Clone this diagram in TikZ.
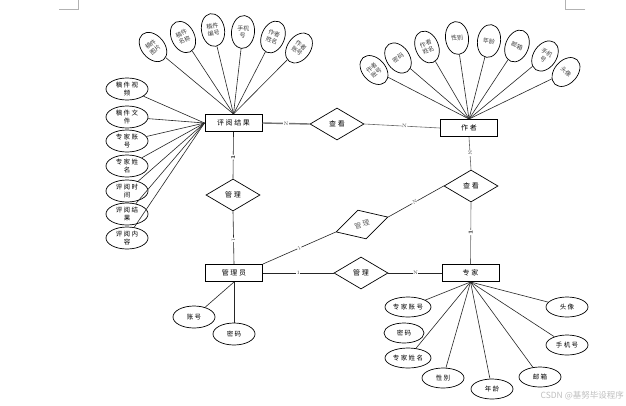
\documentclass[tikz,border=0pt]{standalone}
\usepackage{fontspec}
\newfontfamily\cjk{Noto Sans CJK SC}
\newfontfamily\cjkw{Noto Sans CJK SC}[LetterSpace=22]
\usetikzlibrary{shapes.geometric}

\tikzset{
  ent/.style={draw, line width=1pt, minimum width=57, minimum height=17, inner sep=0pt,
    font=\cjkw\fontsize{7}{8}\selectfont},
  rel/.style={draw, diamond, line width=0.7pt, inner sep=0pt, minimum width=54, minimum height=32,
    font=\cjkw\fontsize{7}{8}\selectfont},
  attv/.style={draw, ellipse, line width=0.7pt, inner sep=0pt, minimum width=23, minimum height=33,
    align=center, font=\cjk\fontsize{6}{7}\selectfont, text=black!75},
  atth/.style={draw, ellipse, line width=0.7pt, inner sep=0pt, minimum width=42, minimum height=22,
    align=center, font=\cjkw\fontsize{6.5}{8}\selectfont},
  attw/.style={atth, minimum width=46, minimum height=20},
  conn/.style={line width=0.6pt, black!85},
  card/.style={font=\fontsize{5}{5}\selectfont, inner sep=0.4pt, fill=white, sloped, text=black!70},
  cardb/.style={card, font=\bfseries\fontsize{6}{6}\selectfont, text=black},
  pagemark/.style={line width=0.5pt, black!30},
}

\begin{document}
\begin{tikzpicture}[x=1pt, y=-1pt]
\useasboundingbox[fill=white] (0,0) rectangle (626,405);

% page corner marks
\draw[pagemark] (59,9.5) -- (78,9.5) -- (78,0);
\draw[pagemark] (585,9.5) -- (565,9.5) -- (565,0);

% entities
\node[ent] (rj)  at (233.5,123) {评阅结果};
\node[ent] (zz)  at (469,128)   {作者};
\node[ent] (gly) at (234,273)   {管理员};
\node[ent] (zj)  at (470.5,273) {专家};

% relationships
\node[rel] (ck1) at (337,124) {查看};
\node[rel] (ck2) at (471,186) {查看};
\node[rel] (gl1) at (233,195) {管理};
\node[rel] (gl2) at (361,273) {管理};
\node[rel, rotate=16, minimum height=30, text=black!60] (gl3) at (362,224.5) {管理};

% attributes of 评阅结果 (upper fan)
\node[attv, rotate=40]  (a1) at (153,47) {稿件\\图片};
\node[attv, rotate=26]  (a2) at (183,37) {稿件\\名称};
\node[attv, rotate=10]  (a3) at (213,30) {稿件\\编号};
\node[attv, rotate=-6]  (a4) at (243,32) {手机\\号};
\node[attv, rotate=-22] (a5) at (273,37) {作者\\姓名};
\node[attv, rotate=-36] (a6) at (299,48) {作者\\账号};
\foreach \n in {a1,a2,a3,a4,a5,a6} \draw[conn] (rj.north) -- (\n);

% attributes of 评阅结果 (left column)
\node[atth] (b1) at (127,89)  {稿件视\\频};
\node[atth] (b2) at (127,117) {稿件文\\件};
\node[atth] (b3) at (127,141) {专家账\\号};
\node[atth] (b4) at (127,166) {专家姓\\名};
\node[atth] (b5) at (127,191) {评阅时\\间};
\node[atth] (b6) at (127,214) {评阅结\\果};
\node[atth] (b7) at (127,238) {评阅内\\容};
\foreach \n in {b1,b2,b3,b4,b5,b6,b7} \draw[conn] (rj.west) -- (\n);

% attributes of 作者
\node[attv, rotate=42]  (c1) at (374,70) {作者\\账号};
\node[attv, rotate=34]  (c2) at (398,58) {密码};
\node[attv, rotate=22]  (c3) at (427,47) {作者\\姓名};
\node[attv, rotate=7]   (c4) at (457,38) {性别};
\node[attv, rotate=-9]  (c5) at (489,41) {年龄};
\node[attv, rotate=-22] (c6) at (517,46) {邮箱};
\node[attv, rotate=-34] (c7) at (545,56) {手机\\号};
\node[attv, rotate=-42] (c8) at (566,72) {头像};
\foreach \n in {c1,c2,c3,c4,c5,c6,c7,c8} \draw[conn] (zz.north) -- (\n);

% attributes of 管理员
\node[atth] (d1) at (194,317) {账号};
\node[atth] (d2) at (234,334) {密码};
\draw[conn] (gly.south) -- (d1);
\draw[conn] (gly.south) -- (d2);

% attributes of 专家
\node[attw] (e1) at (408,307) {专家账号};
\node[attw, minimum width=40] (e2) at (404,333) {密码};
\node[attw] (e3) at (408,358) {专家姓名};
\node[attw, minimum width=42] (e4) at (443,378) {性别};
\node[attw, minimum width=42] (e5) at (492,389) {年龄};
\node[attw, minimum width=42] (e6) at (540,377) {邮箱};
\node[attw, minimum width=42] (e7) at (567,345) {手机号};
\node[attw, minimum width=42] (e8) at (567,307) {头像};
\foreach \n in {e1,e3,e4,e5,e6,e7,e8} \draw[conn] (zj.south) -- (\n);

% relationship links with cardinalities
\draw[line width=1.4pt, black!55] (rj.east) -- node[card, pos=0.5] {N} (ck1.west);
\draw[conn, black!60] (ck1.east) -- node[card, pos=0.53] {N} (zz.west);
\draw[conn, black!60] (zz.south) -- node[card, pos=0.5] {N} (ck2.north);
\draw[conn, black!60] (ck2.south) -- node[cardb, pos=0.49] {1} (zj.north);
\draw[conn] (rj.south) -- node[cardb, pos=0.54] {1} (gl1.north);
\draw[conn] (gl1.south) -- node[card, pos=0.54] {1} (gly.north);
\draw[conn] (gly.east) -- node[card, pos=0.5] {1} (gl2.west);
\draw[conn] (gl2.east) -- node[card, pos=0.51] {N} (zj.west);
\draw[conn] (gly.north east) -- node[card, pos=0.5] {1} (gl3.west);
\draw[conn] (gl3.east) -- node[card, pos=0.48] {N} (ck2.west);

% watermark
\node[font=\cjk\fontsize{8.5}{9}\selectfont, text=black!25, anchor=east, inner sep=0pt]
  (wm) at (624,396) {CSDN @基努毕设程序};
\end{tikzpicture}
\end{document}
